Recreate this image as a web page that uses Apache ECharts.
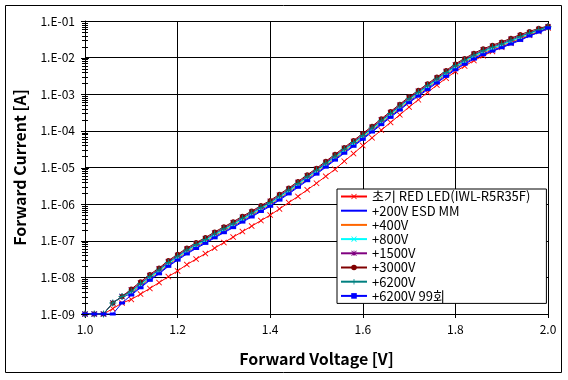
<!DOCTYPE html>
<html><head><meta charset="utf-8">
<script src="https://cdn.jsdelivr.net/npm/echarts@6/dist/echarts.min.js"></script>
<style>html,body{margin:0;padding:0;background:#fff}#c{width:568px;height:380px}</style>
</head><body><div id="c"></div>
<script>
const voltage = [1.00,1.02,1.04,1.06,1.08,1.10,1.12,1.14,1.16,1.18,1.20,1.22,1.24,1.26,1.28,1.30,1.32,1.34,1.36,1.38,1.40,1.42,1.44,1.46,1.48,1.50,1.52,1.54,1.56,1.58,1.60,1.62,1.64,1.66,1.68,1.70,1.72,1.74,1.76,1.78,1.80,1.82,1.84,1.86,1.88,1.90,1.92,1.94,1.96,1.98,2.00];

const initialRed = [1e-9,1e-9,1e-9,1.4e-9,2.0e-9,2.5e-9,3.5e-9,5.0e-9,7.2e-9,1.05e-8,1.5e-8,2.24e-8,3.16e-8,4.47e-8,6.31e-8,8.91e-8,1.26e-7,1.78e-7,2.51e-7,3.55e-7,5.01e-7,7.41e-7,1.10e-6,1.62e-6,2.45e-6,3.72e-6,5.75e-6,8.91e-6,1.48e-5,2.40e-5,3.98e-5,6.46e-5,1.05e-4,1.70e-4,2.75e-4,4.47e-4,7.08e-4,1.12e-3,1.78e-3,2.75e-3,4.17e-3,5.89e-3,8.32e-3,1.12e-2,1.48e-2,1.91e-2,2.45e-2,3.16e-2,4.07e-2,5.13e-2,6.46e-2];
const esd200 = [1e-9,1e-9,1e-9,2.0e-9,3.0e-9,3.5e-9,5.5e-9,8.8e-9,1.32e-8,2.1e-8,3.12e-8,4.62e-8,6.52e-8,8.98e-8,1.28e-7,1.76e-7,2.42e-7,3.42e-7,4.73e-7,6.68e-7,9.24e-7,1.36e-6,2.02e-6,3.05e-6,4.62e-6,6.99e-6,1.08e-5,1.68e-5,2.60e-5,4.02e-5,6.23e-5,9.86e-5,1.57e-4,2.48e-4,3.93e-4,6.23e-4,9.42e-4,1.43e-3,2.16e-3,3.27e-3,4.95e-3,6.99e-3,9.68e-3,1.28e-2,1.60e-2,1.97e-2,2.48e-2,3.12e-2,3.93e-2,4.84e-2,6.10e-2];
const esd400 = [1e-9,1e-9,1e-9,2.0e-9,3.0e-9,3.8e-9,6.0e-9,9.5e-9,1.43e-8,2.28e-8,3.37e-8,4.99e-8,7.04e-8,9.69e-8,1.38e-7,1.90e-7,2.61e-7,3.70e-7,5.10e-7,7.21e-7,9.98e-7,1.47e-6,2.18e-6,3.30e-6,4.99e-6,7.54e-6,1.17e-5,1.81e-5,2.80e-5,4.34e-5,6.73e-5,1.06e-4,1.69e-4,2.68e-4,4.25e-4,6.73e-4,1.02e-3,1.54e-3,2.33e-3,3.53e-3,5.34e-3,7.54e-3,1.05e-2,1.38e-2,1.73e-2,2.13e-2,2.68e-2,3.37e-2,4.25e-2,5.23e-2,6.42e-2];
const esd800 = [1e-9,1e-9,1e-9,2.0e-9,3.0e-9,4.0e-9,6.3e-9,1.0e-8,1.5e-8,2.4e-8,3.55e-8,5.25e-8,7.41e-8,1.02e-7,1.45e-7,2.0e-7,2.75e-7,3.89e-7,5.37e-7,7.59e-7,1.05e-6,1.55e-6,2.29e-6,3.47e-6,5.25e-6,7.94e-6,1.23e-5,1.91e-5,2.95e-5,4.57e-5,7.08e-5,1.12e-4,1.78e-4,2.82e-4,4.47e-4,7.08e-4,1.07e-3,1.62e-3,2.45e-3,3.72e-3,5.62e-3,7.94e-3,1.10e-2,1.45e-2,1.82e-2,2.24e-2,2.82e-2,3.55e-2,4.47e-2,5.50e-2,6.76e-2];
const esd1500 = [1e-9,1e-9,1e-9,2.0e-9,3.0e-9,4.5e-9,7.0e-9,1.12e-8,1.68e-8,2.69e-8,3.98e-8,5.88e-8,8.30e-8,1.14e-7,1.62e-7,2.24e-7,3.08e-7,4.36e-7,6.01e-7,8.50e-7,1.18e-6,1.74e-6,2.56e-6,3.89e-6,5.88e-6,8.89e-6,1.38e-5,2.14e-5,3.30e-5,5.12e-5,7.93e-5,1.25e-4,1.99e-4,3.16e-4,5.01e-4,7.93e-4,1.20e-3,1.81e-3,2.74e-3,4.17e-3,6.29e-3,8.89e-3,1.23e-2,1.62e-2,2.04e-2,2.51e-2,3.16e-2,3.98e-2,4.80e-2,5.90e-2,7.00e-2];
const esd3000 = [1e-9,1e-9,1e-9,2.0e-9,3.0e-9,4.8e-9,7.6e-9,1.2e-8,1.8e-8,2.88e-8,4.26e-8,6.30e-8,8.89e-8,1.22e-7,1.74e-7,2.40e-7,3.30e-7,4.67e-7,6.44e-7,9.11e-7,1.26e-6,1.86e-6,2.75e-6,4.16e-6,6.30e-6,9.53e-6,1.48e-5,2.29e-5,3.54e-5,5.48e-5,8.50e-5,1.34e-4,2.14e-4,3.38e-4,5.36e-4,8.50e-4,1.28e-3,1.94e-3,2.94e-3,4.46e-3,6.74e-3,9.53e-3,1.32e-2,1.74e-2,2.18e-2,2.69e-2,3.38e-2,4.26e-2,5.20e-2,6.30e-2,7.30e-2];
const esd6200 = [1e-9,1e-9,1e-9,2.0e-9,3.0e-9,4.2e-9,6.7e-9,1.06e-8,1.59e-8,2.54e-8,3.76e-8,5.57e-8,7.85e-8,1.08e-7,1.54e-7,2.12e-7,2.92e-7,4.12e-7,5.69e-7,8.05e-7,1.11e-6,1.64e-6,2.43e-6,3.68e-6,5.57e-6,8.42e-6,1.30e-5,2.02e-5,3.13e-5,4.84e-5,7.50e-5,1.19e-4,1.89e-4,2.99e-4,4.74e-4,7.50e-4,1.13e-3,1.72e-3,2.60e-3,3.94e-3,5.96e-3,8.42e-3,1.17e-2,1.54e-2,1.93e-2,2.37e-2,2.99e-2,3.76e-2,4.70e-2,5.80e-2,7.00e-2];
const esd6200x99 = [1e-9,1e-9,1e-9,1e-9,2.0e-9,3.3e-9,5.2e-9,8.3e-9,1.25e-8,2.0e-8,2.95e-8,4.36e-8,6.15e-8,8.47e-8,1.20e-7,1.66e-7,2.28e-7,3.23e-7,4.46e-7,6.30e-7,8.72e-7,1.29e-6,1.90e-6,2.88e-6,4.36e-6,6.59e-6,1.02e-5,1.59e-5,2.45e-5,3.79e-5,5.88e-5,9.30e-5,1.48e-4,2.34e-4,3.71e-4,5.88e-4,8.88e-4,1.34e-3,2.03e-3,3.09e-3,4.66e-3,6.59e-3,9.13e-3,1.20e-2,1.51e-2,1.86e-2,2.34e-2,2.95e-2,3.90e-2,5.00e-2,6.50e-2];

const seriesNames = ['초기 RED LED(IWL-R5R35F)','+200V ESD MM','+400V','+800V','+1500V','+3000V','+6200V','+6200V 99회'];
const seriesColors = ['#FF0000','#0000FF','#FF6600','#00FFFF','#800080','#800000','#008080','#0000FF'];
const yDecades = [-9,-8,-7,-6,-5,-4,-3,-2,-1];
const minorMultipliers = [2,3,4,5,6,7,8,9];

const X_SYM = 'path://M0,1L1,0L5,4L9,0L10,1L6,5L10,9L9,10L5,6L1,10L0,9L4,5Z';
const STAR_SYM = 'path://M0,1L1,0L5,4L9,0L10,1L6,5L10,9L9,10L5,6L1,10L0,9L4,5ZM4.3,0L5.7,0L5.7,10L4.3,10Z';
const PLUS_SYM = 'path://M4.3,0L5.7,0L5.7,4.3L10,4.3L10,5.7L5.7,5.7L5.7,10L4.3,10L4.3,5.7L0,5.7L0,4.3L4.3,4.3Z';
const symbols = [X_SYM,'none','none',X_SYM,STAR_SYM,'circle',PLUS_SYM,'rect'];
const symSizes = [6,0,0,6,6,5,7,[6,3]];
const values = [initialRed,esd200,esd400,esd800,esd1500,esd3000,esd6200,esd6200x99];

const FONT = '"Noto Sans CJK KR", "Noto Sans", sans-serif';
const series = values.map((arr,i)=>({
  name: seriesNames[i], type:'line', data: voltage.map((v,j)=>[v, arr[j]]),
  symbol: symbols[i], symbolSize: symSizes[i], showSymbol: symbols[i] !== 'none',
  color: seriesColors[i], lineStyle:{width:1, color: seriesColors[i]},
  itemStyle:{color: seriesColors[i]}, animation:false, z: 3 + i
}));

const tickData = [];
yDecades.forEach(d=>{
  tickData.push([1.0, Math.pow(10,d), 1]);
  if (d < -1) minorMultipliers.forEach(m=>tickData.push([1.0, m*Math.pow(10,d), 0]));
});
series.push({
  type:'custom', name:'ticks', data: tickData, silent:true, z: 20, clip:false,
  encode:{x:0,y:1},
  renderItem:(params, api)=>{
    const p = api.coord([api.value(0), api.value(1)]);
    const len = api.value(2) ? 4 : 3;
    const x = Math.round(p[0]); const y = Math.round(p[1]) + 0.5;
    return {type:'line', shape:{x1:x-len, y1:y, x2:x+len, y2:y}, style:{stroke:'#000', lineWidth:1}};
  }
});

const legendData = seriesNames.map((n,i)=> symbols[i]==='none'
  ? {name:n, itemStyle:{color:'rgba(0,0,0,0)', borderWidth:0}}
  : {name:n});

const chart = echarts.init(document.getElementById('c'), null, {renderer:'canvas'});
chart.setOption({
  animation:false,
  backgroundColor:'#fff',
  grid:{left:85, right:20, top:21, bottom:66, containLabel:false},
  xAxis:{type:'value', min:1.0, max:2.0, interval:0.2,
    name:'Forward Voltage [V]', nameLocation:'middle', nameGap:37,
    nameTextStyle:{fontFamily:FONT, fontSize:16, fontWeight:'bold', color:'#000'},
    axisLine:{lineStyle:{color:'#000', width:1}},
    axisTick:{show:true, length:4, lineStyle:{color:'#000'}},
    axisLabel:{fontFamily:FONT, fontSize:12, color:'#000', margin:9, formatter:v=>v.toFixed(1)},
    splitLine:{show:true, lineStyle:{color:'#000', width:1}}},
  yAxis:{type:'log', logBase:10, min:1e-9, max:1e-1, interval:1,
    name:'Forward Current [A]', nameLocation:'middle', nameGap:57,
    nameTextStyle:{fontFamily:FONT, fontSize:16, fontWeight:'bold', color:'#000'},
    axisLine:{show:true, lineStyle:{color:'#000', width:1}},
    axisTick:{show:false},
    axisLabel:{fontFamily:FONT, fontSize:12, color:'#000', margin:10,
      formatter:v=>{const e=Math.round(Math.log10(v)); return '1.E' + (e<0?'-':'+') + String(Math.abs(e)).padStart(2,'0');}},
    splitLine:{show:true, lineStyle:{color:'#000', width:1}}},
  legend:{data:legendData, orient:'vertical', left:337, top:189,
    backgroundColor:'#fff', borderColor:'#000', borderWidth:1, padding:[1,16,1,3],
    itemWidth:26, itemHeight:7, itemGap:1.2,
    textStyle:{fontFamily:FONT, fontSize:13, color:'#000', lineHeight:13}},
  graphic:[{type:'rect', shape:{x:5.5, y:5.5, width:556, height:367}, style:{fill:'none', stroke:'#000', lineWidth:1}, z:100}],
  series: series
});
</script></body></html>
